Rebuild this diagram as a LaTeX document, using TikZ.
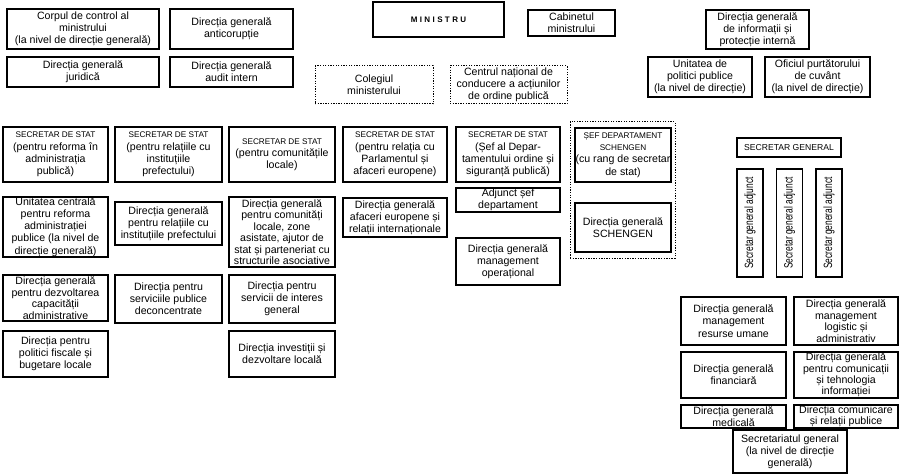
\documentclass[tikz,border=0pt]{standalone}
\usepackage{fontspec}
\setmainfont{Liberation Sans}
\newcommand\bx[7]{%
  \pgfmathsetmacro\mybw{#4-#2}%
  \pgfmathsetmacro\mybh{#5-#3}%
  \node[#6, minimum width=\mybw pt, minimum height=\mybh pt] (#1) at ({(#2+#4)/2},{(#3+#5)/2}) {#7};}
\newcommand\capl[1]{{\fontsize{8.2}{12}\selectfont #1}}
\begin{document}
\begin{tikzpicture}[x=1pt,y=-1pt,
  box/.style={draw, line width=1.15pt, inner sep=0pt, outer sep=0pt, align=center,
    font=\fontsize{10.6}{12.2}\selectfont},
  dbox/.style={box, line width=1pt, dash pattern=on 1.3pt off 1.3pt},
  vbox/.style={box, rotate=90, minimum width=108pt, minimum height=26pt,
    font=\fontsize{12}{12}\selectfont}]
\useasboundingbox (0,0) rectangle (902,476);
% top block
\bx{corp}{7}{9}{159}{49}{box}{Corpul de control al\\ministrului\\(la nivel de direcție generală)}
\bx{anti}{170}{9}{293}{49}{box}{Direcția generală\\anticorupție}
\bx{jur}{7}{57}{159}{87}{box}{Direcția generală\\juridică}
\bx{audit}{170}{57}{293}{87}{box}{Direcția generală\\audit intern}
\bx{min}{373}{2}{504}{37}{box}{{\fontsize{8}{10}\bfseries\addfontfeature{LetterSpace=30}MINISTRU}}
\bx{cab}{528}{10}{615}{36}{box}{Cabinetul\\ministrului}
\bx{col}{315}{66}{433}{104}{dbox}{Colegiul\\ministerului}
\bx{cn}{450}{66}{567}{104}{dbox}{Centrul național de\\conducere a acțiunilor\\de ordine publică}
\bx{dgi}{706}{10}{809}{49}{box}{Direcția generală\\de informații și\\protecție internă}
\bx{upp}{648}{57}{752}{97}{box}{Unitatea de\\politici publice\\(la nivel de direcție)}
\bx{ofc}{765}{57}{870}{97}{box}{Oficiul purtătorului\\de cuvânt\\(la nivel de direcție)}
% secretari de stat
\bx{ss1}{3}{127}{108}{182}{box}{\capl{SECRETAR DE STAT}\\(pentru reforma în\\administrația\\publică)}
\bx{ss2}{115}{127}{222}{182}{box}{\capl{SECRETAR DE STAT}\\(pentru relațiile cu\\instituțiile\\prefectului)}
\bx{ss3}{229}{127}{335}{182}{box}{\capl{SECRETAR DE STAT}\\(pentru comunitățile\\locale)}
\bx{ss4}{343}{127}{447}{182}{box}{\capl{SECRETAR DE STAT}\\(pentru relația cu\\Parlamentul și\\afaceri europene)}
\bx{ss5}{456}{127}{560}{182}{box}{\capl{SECRETAR DE STAT}\\(Șef al Depar-\\tamentului ordine și\\siguranță publică)}
\bx{sch}{570}{122}{675}{258}{dbox}{}
\bx{sef}{575}{128}{671}{182}{box}{\capl{ȘEF DEPARTAMENT}\\\capl{SCHENGEN}\\(cu rang de secretar\\de stat)}
\bx{dgs}{575}{203}{671}{252}{box}{Direcția generală\\SCHENGEN}
% row 2
\bx{uc}{3}{197}{108}{257}{box}{Unitatea centrală\\pentru reforma\\administrației\\publice (la nivel de\\direcție generală)}
\bx{dgr}{115}{202}{222}{245}{box}{Direcția generală\\pentru relațiile cu\\instituțiile prefectului}
\bx{dgc}{229}{197}{335}{267}{box, font=\fontsize{10.6}{11.5}\selectfont}{Direcția generală\\pentru comunități\\locale, zone\\asistate, ajutor de\\stat și parteneriat cu\\structurile asociative}
\bx{dgae}{343}{198}{447}{237}{box}{Direcția generală\\afaceri europene și\\relații internaționale}
\bx{adj}{456}{188}{560}{212}{box, font=\fontsize{10.6}{11.5}\selectfont}{Adjunct șef\\departament}
\bx{dgmo}{456}{238}{560}{285}{box}{Direcția generală\\management\\operațional}
% row 3, 4
\bx{dez}{3}{275}{108}{321}{box, font=\fontsize{10.6}{11.5}\selectfont}{Direcția generală\\pentru dezvoltarea\\capacității\\administrative}
\bx{dsp}{115}{275}{222}{323}{box}{Direcția pentru\\serviciile publice\\deconcentrate}
\bx{dsi}{229}{275}{335}{323}{box}{Direcția pentru\\servicii de interes\\general}
\bx{dpf}{3}{331}{108}{377}{box}{Direcția pentru\\politici fiscale și\\bugetare locale}
\bx{dinv}{229}{331}{335}{377}{box}{Direcția investiții și\\dezvoltare locală}
% secretar general
\bx{sg}{737}{138}{841}{157}{box}{{\fontsize{8.6}{10}\selectfont SECRETAR GENERAL}}
\node[vbox] (sga1) at (750,223) {\scalebox{0.7}[1]{Secretar general adjunct}};
\node[vbox] (sga2) at (789.5,223) {\scalebox{0.7}[1]{Secretar general adjunct}};
\node[vbox] (sga3) at (829,223) {\scalebox{0.7}[1]{Secretar general adjunct}};
\bx{ru}{681}{297}{786}{345}{box}{Direcția generală\\management\\resurse umane}
\bx{log}{794}{297}{898}{345}{box, font=\fontsize{10.6}{11.5}\selectfont}{Direcția generală\\management\\logistic și\\administrativ}
\bx{fin}{681}{352}{786}{398}{box}{Direcția generală\\financiară}
\bx{com}{794}{352}{898}{398}{box, font=\fontsize{10.6}{11.3}\selectfont}{Direcția generală\\pentru comunicații\\și tehnologia\\informației}
\bx{med}{681}{405}{786}{428}{box, font=\fontsize{10.6}{11.3}\selectfont}{Direcția generală\\medicală}
\bx{rp}{794}{405}{898}{428}{box, font=\fontsize{10.6}{11.3}\selectfont}{Direcția comunicare\\și relații publice}
\bx{sec}{733}{430}{847}{473}{box, font=\fontsize{10.6}{11.8}\selectfont}{Secretariatul general\\(la nivel de direcție\\generală)}
\end{tikzpicture}
\end{document}
